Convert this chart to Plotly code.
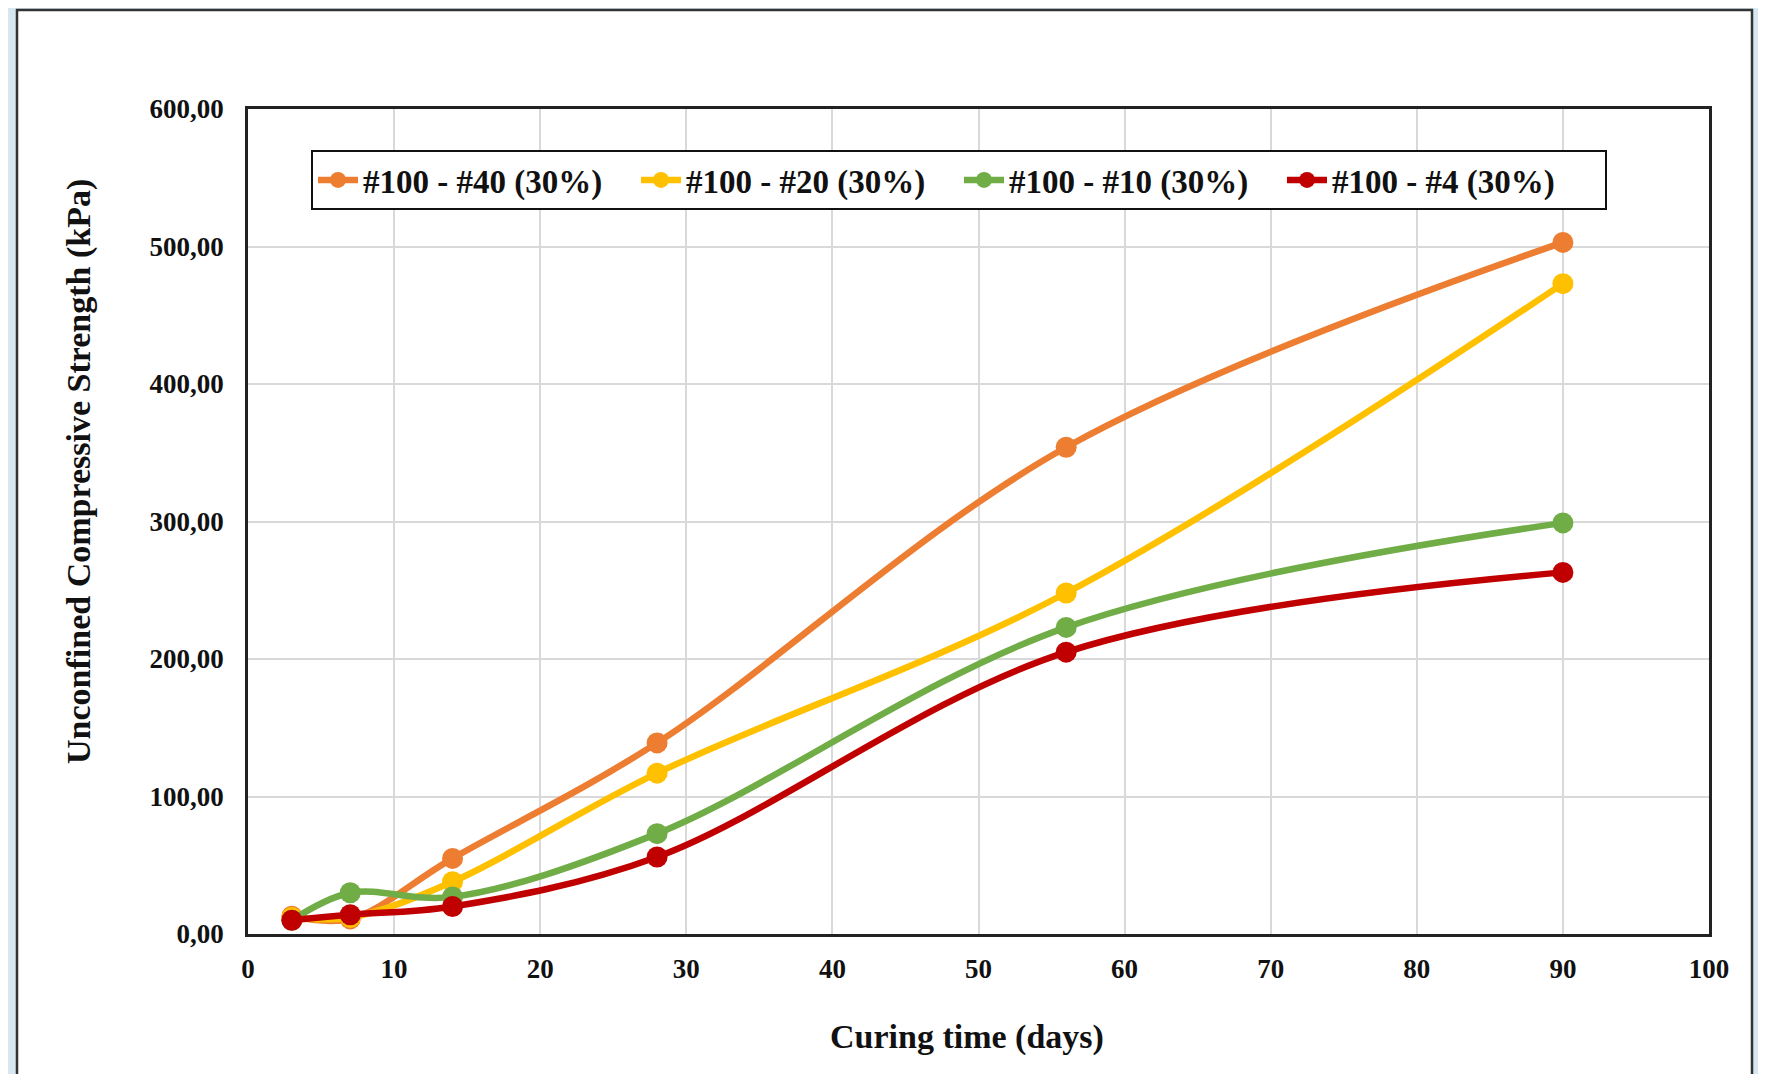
import plotly.graph_objects as go

# ---- data ----
curing_days = [3, 7, 14, 28, 56, 90]
series_names = ["#100 - #40 (30%)", "#100 - #20 (30%)", "#100 - #10 (30%)", "#100 - #4 (30%)"]
ucs_100_40 = [13, 11, 55, 139, 354, 503]
ucs_100_20 = [12, 12, 38, 117, 248, 473]
ucs_100_10 = [10, 30, 27, 73, 223, 299]
ucs_100_4 = [10, 14, 20, 56, 205, 263]
x_ticks = list(range(0, 101, 10))
y_ticks = list(range(0, 601, 100))

colors = ["#ED7D31", "#FFC000", "#70AD47", "#C00000"]
series_values = [ucs_100_40, ucs_100_20, ucs_100_10, ucs_100_4]

OFF = 8  # page body margin
W, H = 1766 - 2 * OFF, 1082 - 2 * OFF
L, R, T, B = 248 - OFF, 1709 - OFF, 109 - OFF, 934 - OFF
pw, ph = R - L, B - T


def px_x(p):
    return (p - OFF - L) / pw


def px_y(p):
    return (B - (p - OFF)) / ph


FONT = "Liberation Serif, Times New Roman, serif"

fig = go.Figure()
for name, vals, col in zip(series_names, series_values, colors):
    fig.add_trace(go.Scatter(
        x=curing_days, y=vals, name=name, mode="lines+markers",
        line=dict(color=col, width=6.5, shape="spline", smoothing=1.0),
        marker=dict(color=col, size=21, symbol="circle"),
    ))

fig.update_layout(
    width=W, height=H,
    margin=dict(l=L, r=W - R, t=T, b=H - B, pad=0),
    paper_bgcolor="#d7e7f1",
    plot_bgcolor="white",
    separators=",.",
    showlegend=True,
    legend=dict(
        orientation="h", x=px_x(311), y=px_y(150), xanchor="left", yanchor="top",
        bgcolor="white", bordercolor="#111111", borderwidth=2,
        font=dict(family=FONT, size=33, color="#111111", weight="bold"),
        itemwidth=40, entrywidth=268, entrywidthmode="pixels",
        tracegroupgap=0,
    ),
    shapes=[dict(
        type="rect", xref="paper", yref="paper",
        x0=px_x(17), x1=px_x(1752), y0=px_y(1100), y1=px_y(10),
        fillcolor="white", line=dict(color="#333333", width=2.5), layer="below",
    )],
    annotations=[
        dict(text="<b>Curing time (days)</b>", xref="paper", yref="paper",
             x=px_x(967), y=px_y(1037), xanchor="center", yanchor="middle",
             showarrow=False, font=dict(family=FONT, size=34, color="#111111")),
        dict(text="<b>Unconfined Compressive Strength (kPa)</b>", xref="paper", yref="paper",
             x=px_x(79), y=px_y(472), xanchor="center", yanchor="middle", textangle=-90,
             showarrow=False, font=dict(family=FONT, size=34, color="#111111")),
    ],
)

fig.update_xaxes(
    range=[0, 100], tickvals=x_ticks, ticks="", showgrid=True,
    gridcolor="#d9d9d9", gridwidth=1.5, zeroline=False,
    showline=True, linecolor="#222222", linewidth=2.5, mirror=True,
    tickfont=dict(family=FONT, size=27, color="#111111", weight="bold"),
    ticklabelstandoff=9,
)
fig.update_yaxes(
    range=[0, 600], tickvals=y_ticks, tickformat=".2f", ticks="", showgrid=True,
    gridcolor="#d9d9d9", gridwidth=1.5, zeroline=False,
    showline=True, linecolor="#222222", linewidth=2.5, mirror=True,
    tickfont=dict(family=FONT, size=27, color="#111111", weight="bold"),
    ticklabelstandoff=16,
)

fig.write_html("out.html")
